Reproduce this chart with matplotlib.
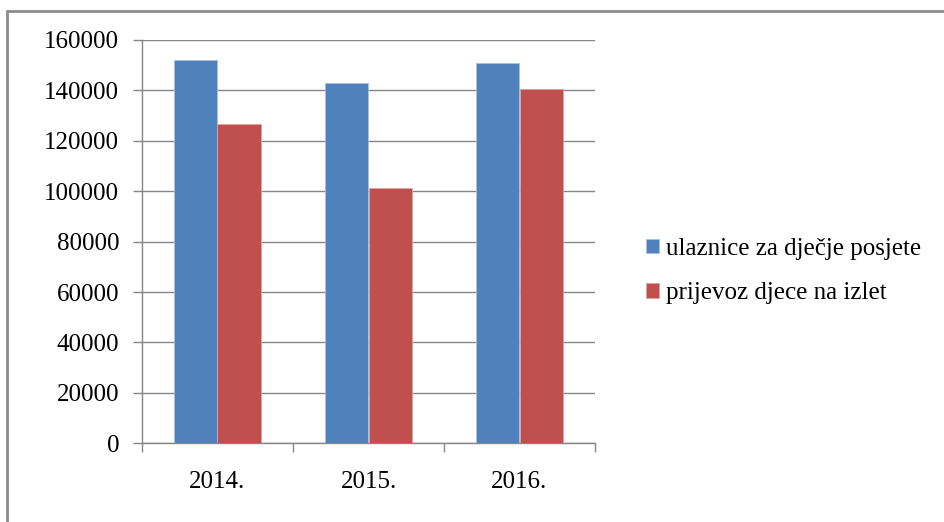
import matplotlib

matplotlib.use("Agg")
import matplotlib.pyplot as plt
import numpy as np
from matplotlib.patches import Rectangle

# data
years = ["2014.", "2015.", "2016."]
ulaznice = [152000, 143000, 151000]
prijevoz = [126600, 101200, 140500]
series_names = ["ulaznice za dječje posjete", "prijevoz djece na izlet"]
yticks = list(range(0, 160001, 20000))

BLUE = "#4F81BD"
RED = "#C0504D"
GRID = "#868686"
FS = 18

plt.rcParams["font.family"] = ["Liberation Serif", "DejaVu Serif"]

W, H = 945, 522
fig = plt.figure(figsize=(W / 100, H / 100), dpi=100)

# outer chart border (right/bottom edges cut off in the reference)
fig.patches.append(Rectangle((7 / W, -0.1), 1.2, (H - 11) / H + 0.1,
                             transform=fig.transFigure, fill=False,
                             edgecolor="#8c8c8c", lw=2))

ax = fig.add_axes([142 / W, (H - 443.3) / H, (595 - 142) / W, (443.3 - 40) / H])

x = np.arange(len(years))
w = 0.288
ax.bar(x - w / 2, ulaznice, w, color=BLUE, edgecolor="#a9c0de", lw=0.6,
       label=series_names[0], zorder=3)
ax.bar(x + w / 2, prijevoz, w, color=RED, edgecolor="#dca3a1", lw=0.6,
       label=series_names[1], zorder=3)

ax.set_xlim(-0.5, len(years) - 0.5)
ax.set_ylim(0, 160000)
ax.set_yticks(yticks)
ax.set_yticklabels([str(v) for v in yticks], fontsize=FS)
ax.yaxis.grid(True, color=GRID, lw=1)
ax.set_axisbelow(True)

ax.set_xticks(x)
ax.set_xticklabels(years, fontsize=FS)
ax.set_xticks(np.arange(len(years) + 1) - 0.5, minor=True)
ax.tick_params(axis="x", which="major", length=0, pad=20)
ax.tick_params(axis="x", which="minor", length=6.5, color=GRID, width=1)
ax.tick_params(axis="y", length=6.5, color=GRID, width=1, pad=10)

for s in ("top", "right"):
    ax.spines[s].set_visible(False)
for s in ("left", "bottom"):
    ax.spines[s].set_color(GRID)
    ax.spines[s].set_linewidth(1)

fig.legend(loc="center left", bbox_to_anchor=(624 / W, (H - 271) / H),
           frameon=False, fontsize=FS, handlelength=0.5, handleheight=0.5,
           handletextpad=0.3, labelspacing=0.9)

fig.savefig("out.png", dpi=100)
